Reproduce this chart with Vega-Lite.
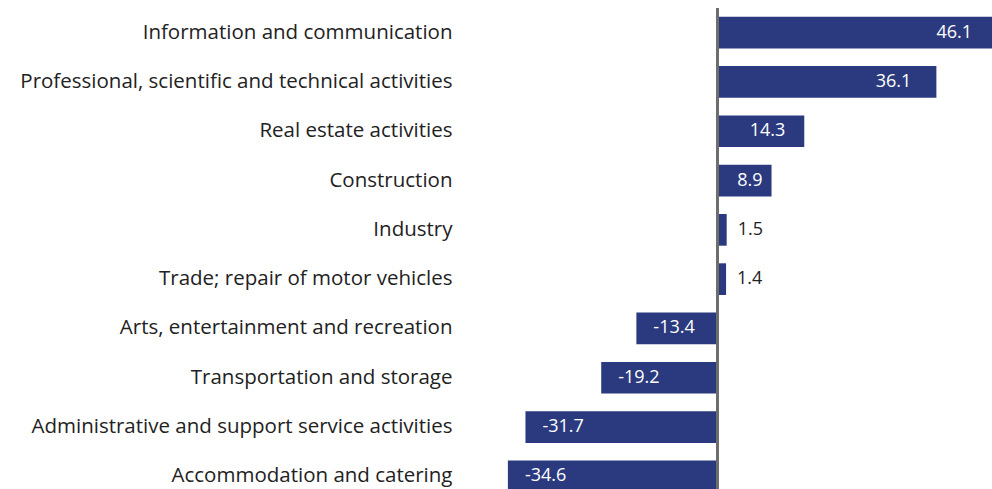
{
  "$schema": "https://vega.github.io/schema/vega-lite/v6.json",
  "width": 532,
  "height": 481,
  "autosize": "none",
  "padding": {"left": 460, "top": 8, "right": 0, "bottom": 0},
  "config": {
    "view": {"stroke": null},
    "font": "Open Sans",
    "locale": {"number": {"decimal": ".", "thousands": ",", "grouping": [3], "currency": ["$", ""], "minus": "-"}}
  },
  "data": {
    "values": [
      {"sector": "Information and communication", "value": 46.1},
      {"sector": "Professional, scientific and technical activities", "value": 36.1},
      {"sector": "Real estate activities", "value": 14.3},
      {"sector": "Construction", "value": 8.9},
      {"sector": "Industry", "value": 1.5},
      {"sector": "Trade; repair of motor vehicles", "value": 1.4},
      {"sector": "Arts, entertainment and recreation", "value": -13.4},
      {"sector": "Transportation and storage", "value": -19.2},
      {"sector": "Administrative and support service activities", "value": -31.7},
      {"sector": "Accommodation and catering", "value": -34.6}
    ]
  },
  "layer": [
    {
      "mark": {"type": "bar", "color": "#2b3a7e"},
      "encoding": {
        "y": {"field": "sector", "type": "nominal", "sort": null,
          "scale": {"range": [0, 493], "paddingInner": 0.357, "paddingOuter": 0.1785},
          "axis": {"title": null, "domain": false, "ticks": false, "labelFontSize": 20.5, "labelColor": "#222222", "labelPadding": 8, "labelLimit": 0}},
        "x": {"field": "value", "type": "quantitative",
          "scale": {"domain": [-42.5, 46.1], "range": [0, 537], "nice": false, "zero": false},
          "axis": null}
      }
    },
    {
      "mark": {"type": "rule", "color": "#6e6e6e", "strokeWidth": 2},
      "encoding": {"x": {"datum": 0, "type": "quantitative"}}
    },
    {
      "transform": [{"filter": "datum.value >= 30"}],
      "mark": {"type": "text", "color": "white", "align": "right", "baseline": "middle", "dx": -25, "fontSize": 18},
      "encoding": {
        "y": {"field": "sector", "type": "nominal", "sort": null},
        "x": {"field": "value", "type": "quantitative"},
        "text": {"field": "value", "type": "quantitative", "format": ".1f"}
      }
    },
    {
      "transform": [{"filter": "datum.value >= 10 && datum.value < 30"}],
      "mark": {"type": "text", "color": "white", "align": "right", "baseline": "middle", "dx": -19, "fontSize": 18},
      "encoding": {
        "y": {"field": "sector", "type": "nominal", "sort": null},
        "x": {"field": "value", "type": "quantitative"},
        "text": {"field": "value", "type": "quantitative", "format": ".1f"}
      }
    },
    {
      "transform": [{"filter": "datum.value >= 5 && datum.value < 10"}],
      "mark": {"type": "text", "color": "white", "align": "right", "baseline": "middle", "dx": -9, "fontSize": 18},
      "encoding": {
        "y": {"field": "sector", "type": "nominal", "sort": null},
        "x": {"field": "value", "type": "quantitative"},
        "text": {"field": "value", "type": "quantitative", "format": ".1f"}
      }
    },
    {
      "transform": [{"filter": "datum.value >= 0 && datum.value < 5"}],
      "mark": {"type": "text", "color": "#222222", "align": "left", "baseline": "middle", "dx": 11, "fontSize": 18},
      "encoding": {
        "y": {"field": "sector", "type": "nominal", "sort": null},
        "x": {"field": "value", "type": "quantitative"},
        "text": {"field": "value", "type": "quantitative", "format": ".1f"}
      }
    },
    {
      "transform": [{"filter": "datum.value < 0"}],
      "mark": {"type": "text", "color": "white", "align": "left", "baseline": "middle", "dx": 17, "fontSize": 18},
      "encoding": {
        "y": {"field": "sector", "type": "nominal", "sort": null},
        "x": {"field": "value", "type": "quantitative"},
        "text": {"field": "value", "type": "quantitative", "format": ".1f"}
      }
    }
  ]
}
